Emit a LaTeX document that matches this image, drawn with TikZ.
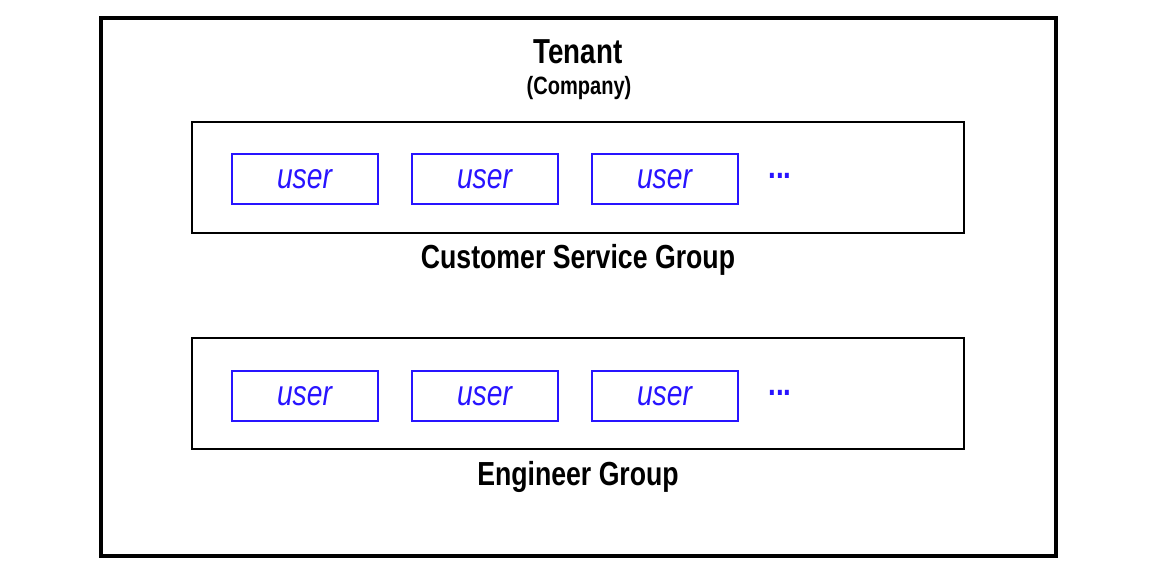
\documentclass[tikz,border=0pt]{standalone}
\usepackage{fontspec}
\setmainfont{Liberation Sans}[FakeStretch=0.8]
\usetikzlibrary{positioning}
\definecolor{userblue}{RGB}{40,20,255}

\begin{document}
\begin{tikzpicture}[x=0.75pt,y=0.75pt,node distance=32*0.75pt]
\tikzstyle{tenantbox}=[draw=black,line width=2.6pt]
\tikzstyle{groupbox}=[draw=black,line width=1.5pt,minimum width=772*0.75pt,minimum height=111*0.75pt,inner sep=0pt]
\tikzstyle{userbox}=[draw=userblue,line width=1.5pt,minimum width=146*0.75pt,minimum height=50*0.75pt,inner sep=0pt,text=userblue,font=\fontsize{26.5}{28}\selectfont\itshape]
\tikzstyle{grouplabel}=[font=\fontsize{25}{28}\selectfont\bfseries]

\useasboundingbox (0,0) rectangle (1156,-572);
\draw[tenantbox] (101,-18) rectangle (1056,-556);

\node[font=\fontsize{26}{28}\selectfont\bfseries] (tenant) at (578,-52) {Tenant};
\node[font=\fontsize{18.8}{22}\selectfont\bfseries] (company) at (579,-88) {(Company)};

% customer service
\node[groupbox] (cs) at (578,-177.5) {};
\node[userbox] (cs1) at (304.5,-179) {user};
\node[userbox] (cs2) [right = of cs1] {user};
\node[userbox] (cs3) [right = of cs2] {user};
\node[text=userblue,font=\fontsize{26}{28}\selectfont\bfseries] (csdots) at (780,-176) {...};
\node[grouplabel] (cslabel) at (578,-260) {Customer Service Group};

% engineer
\node[groupbox] (eng) at (578,-393.5) {};
\node[userbox] (eng1) at (304.5,-396) {user};
\node[userbox] (eng2) [right = of eng1] {user};
\node[userbox] (eng3) [right = of eng2] {user};
\node[text=userblue,font=\fontsize{26}{28}\selectfont\bfseries] (engdots) at (780,-393) {...};
\node[grouplabel] (englabel) at (578,-477) {Engineer Group};
\end{tikzpicture}
\end{document}
